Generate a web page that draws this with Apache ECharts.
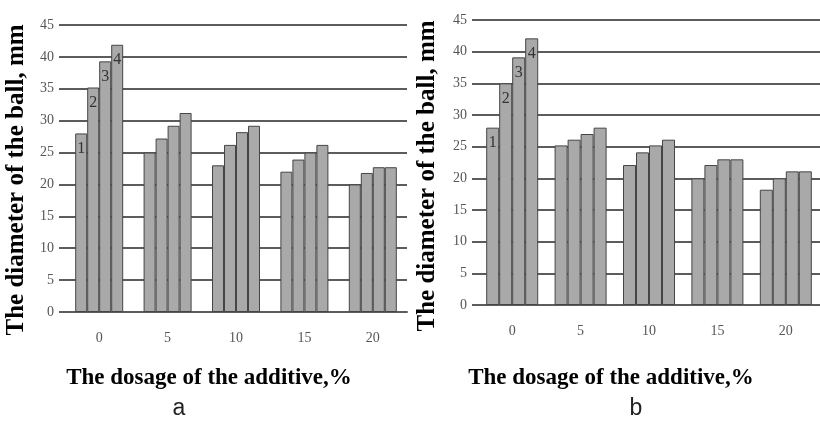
<!DOCTYPE html>
<html>
<head>
<meta charset="utf-8">
<script src="https://cdn.jsdelivr.net/npm/echarts@6/dist/echarts.min.js"></script>
<style>
html,body{margin:0;padding:0;background:#fff;}
#chart{width:820px;height:435px;}
</style>
</head>
<body>
<div id="chart"></div>
<script>
var categories = ['0', '5', '10', '15', '20'];
var yTicks = [0, 45, 5]; // min, max, interval
var seriesNames = ['1', '2', '3', '4'];

// Panel a
var a1 = [28, 25, 23, 22, 20];
var a2 = [35.2, 27.2, 26.2, 23.9, 21.8];
var a3 = [39.3, 29.2, 28.2, 25, 22.7];
var a4 = [41.9, 31.2, 29.2, 26.2, 22.7];
// Panel b
var b1 = [28, 25.2, 22.1, 20, 18.2];
var b2 = [35, 26.1, 24.1, 22.1, 20];
var b3 = [39.1, 27, 25.2, 23, 21.1];
var b4 = [42.1, 28, 26.1, 23, 21.1];

var xTitle = 'The dosage of the additive,%';
var yTitle = 'The diameter of the ball, mm';
var panelLabels = ['a', 'b'];

var serif = '"Liberation Serif", "DejaVu Serif", serif';
var lineColor = '#5c5c5c';

function withLabel(arr, name) {
  return arr.map(function (v, i) {
    if (i === 0) {
      return { value: v, label: { show: true, formatter: name } };
    }
    return v;
  });
}

function makeSeries(arrs, idx, bw) {
  return arrs.map(function (arr, k) {
    return {
      type: 'bar',
      name: seriesNames[k],
      xAxisIndex: idx,
      yAxisIndex: idx,
      barWidth: bw,
      barGap: '0%',
      itemStyle: { color: '#a9a9a9', borderColor: '#454545', borderWidth: 1 },
      label: {
        show: false,
        position: 'insideTop',
        distance: 7,
        fontFamily: serif,
        fontSize: 16,
        color: '#333'
      },
      data: withLabel(arr, seriesNames[k]),
      z: 3
    };
  });
}

function xAxis(idx) {
  return {
    type: 'category',
    gridIndex: idx,
    data: categories,
    axisLine: { show: true, lineStyle: { color: lineColor, width: 2 } },
    axisTick: { show: false },
    axisLabel: { fontFamily: serif, fontSize: 14, color: '#555', margin: 19 }
  };
}
function yAxis(idx) {
  return {
    type: 'value',
    gridIndex: idx,
    min: yTicks[0],
    max: yTicks[1],
    interval: yTicks[2],
    axisLine: { show: false },
    axisTick: { show: true, length: 6, lineStyle: { color: lineColor, width: 2 } },
    axisLabel: { fontFamily: serif, fontSize: 14, color: '#555', margin: 11 },
    splitLine: { show: true, lineStyle: { color: lineColor, width: 2 } }
  };
}

var chart = echarts.init(document.getElementById('chart'), null, { renderer: 'canvas' });
chart.setOption({
  backgroundColor: '#fff',
  animation: false,
  grid: [
    { left: 65, top: 25, width: 342, height: 287 },
    { left: 478, top: 20, width: 347, height: 285 }
  ],
  xAxis: [xAxis(0), xAxis(1)],
  yAxis: [yAxis(0), yAxis(1)],
  series: [].concat(
    makeSeries([a1, a2, a3, a4], 0, 12),
    makeSeries([b1, b2, b3, b4], 1, 13)
  ),
  graphic: [
    { type: 'text', x: 209, y: 378, style: { text: xTitle, font: 'bold 23px ' + serif, fill: '#000', align: 'center', verticalAlign: 'middle' } },
    { type: 'text', x: 611, y: 378, style: { text: xTitle, font: 'bold 23px ' + serif, fill: '#000', align: 'center', verticalAlign: 'middle' } },
    { type: 'text', x: 17, y: 180, rotation: Math.PI / 2, style: { text: yTitle, font: 'bold 25px ' + serif, fill: '#000', align: 'center', verticalAlign: 'middle' } },
    { type: 'text', x: 428, y: 176, rotation: Math.PI / 2, style: { text: yTitle, font: 'bold 25px ' + serif, fill: '#000', align: 'center', verticalAlign: 'middle' } },
    { type: 'text', x: 179, y: 409, style: { text: panelLabels[0], font: '23px "Liberation Sans", sans-serif', fill: '#222', align: 'center', verticalAlign: 'middle' } },
    { type: 'text', x: 636, y: 409, style: { text: panelLabels[1], font: '23px "Liberation Sans", sans-serif', fill: '#222', align: 'center', verticalAlign: 'middle' } }
  ]
});
</script>
</body>
</html>
